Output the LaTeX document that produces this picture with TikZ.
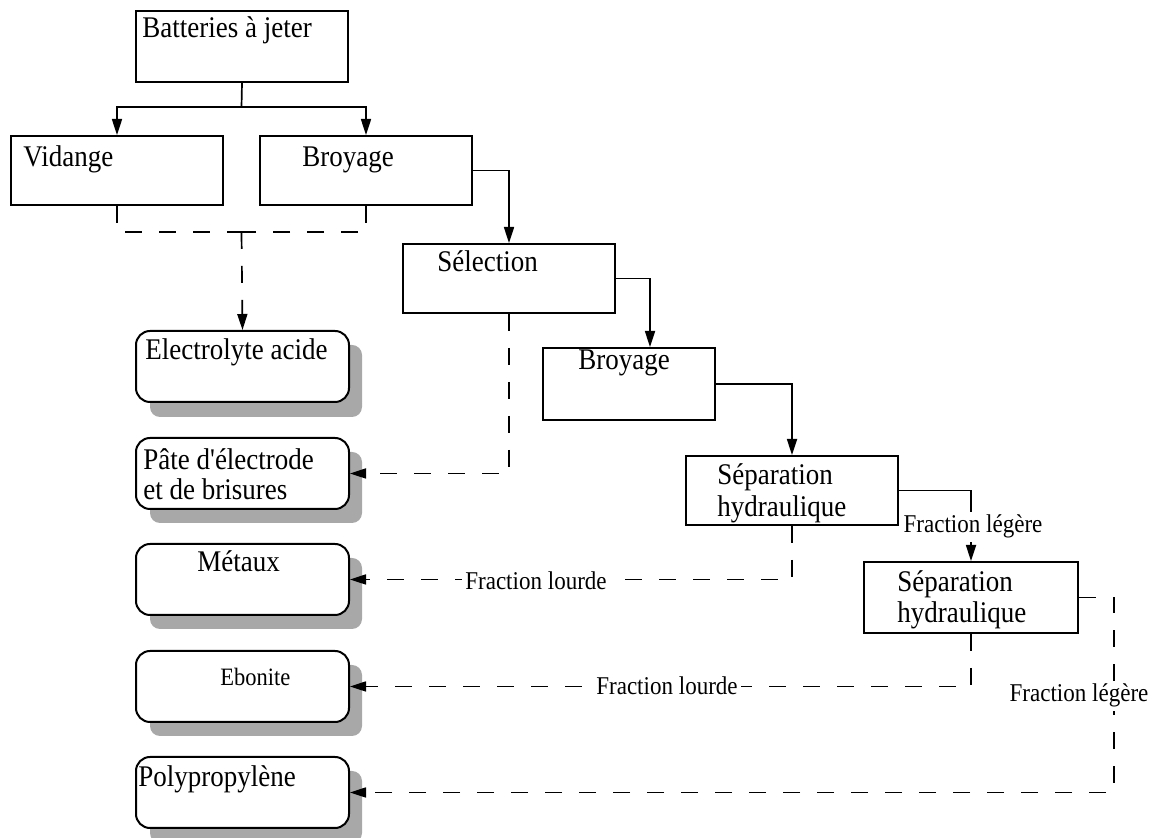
\documentclass[tikz,border=0pt]{standalone}
\usepackage{fontspec}
\setmainfont{Liberation Serif}[FakeStretch=0.9, Ligatures=TeXOff]
\usetikzlibrary{arrows.meta}
\definecolor{shadowgray}{RGB}{168,168,168}
\begin{document}
\begin{tikzpicture}[x=0.5pt,y=-0.5pt,
  box/.style={draw, line width=1pt, rectangle, anchor=north west, inner sep=0pt, minimum width=106pt, minimum height=34.5pt},
  rbox/.style={draw, line width=1pt, fill=white, rounded corners=7pt, anchor=north west, inner sep=0pt, minimum width=106.5pt, minimum height=35.5pt},
  shadowbox/.style={fill=shadowgray, rounded corners=5pt},
  txt/.style={anchor=base west, inner sep=0pt, font=\fontsize{15}{18}\selectfont},
  lab/.style={anchor=base, fill=white, inner sep=1.5pt, font=\fontsize{12.8}{15}\selectfont},
  conn/.style={line width=0.85pt},
  arr/.style={conn, -{Triangle[length=8pt,width=5pt]}},
  dline/.style={conn, dash pattern=on 8.5pt off 8.5pt},
]
\useasboundingbox (0,0) rectangle (1152,838);
\fill[white] (0,0) rectangle (1152,838);

% shadows of the rounded boxes
\fill[shadowbox] (150,345) rectangle (362,417);
\fill[shadowbox] (150,452) rectangle (362,523);
\fill[shadowbox] (150,558) rectangle (362,629);
\fill[shadowbox] (150,665) rectangle (362,736);
\fill[shadowbox] (150,771) rectangle (362,843);

% process boxes
\node[box, minimum height=35.5pt] (bat) at (135,10) {};
\node[box] (vid) at (10,135) {};
\node[box] (bro1) at (259,135) {};
\node[box] (sel) at (402,243) {};
\node[box, minimum width=86pt, minimum height=36pt] (bro2) at (542,347) {};
\node[box] (sep1) at (685,455) {};
\node[box, minimum width=107pt, minimum height=35.5pt] (sep2) at (863,561) {};

% product boxes
\node[rbox] (elec) at (135,330) {};
\node[rbox] (pate) at (135,437) {};
\node[rbox] (met) at (135,543) {};
\node[rbox] (ebo) at (135,650) {};
\node[rbox] (poly) at (135,756) {};

% texts
\node[txt] (tbat) at (142,38) {Batteries à jeter};
\node[txt] (tvid) at (23,167) {Vidange};
\node[txt] (tbro1) at (302,167) {Broyage};
\node[txt] (tsel) at (437,272) {Sélection};
\node[txt] (telec) at (145,360) {Electrolyte acide};
\node[txt] (tpatea) at (143,470) {Pâte d'électrode};
\node[txt] (tpateb) at (143,500) {et de brisures};
\node[txt] (tbro2) at (578,370) {Broyage};
\node[txt] (tsepa) at (717,485) {Séparation};
\node[txt] (tsepb) at (717,517) {hydraulique};
\node[txt] (tsepc) at (897,592) {Séparation};
\node[txt] (tsepd) at (897,623) {hydraulique};
\node[txt] (tmet) at (197,572) {Métaux};
\node[txt, font=\fontsize{12.5}{15}\selectfont] (tebo) at (220,686) {Ebonite};
\node[txt] (tpoly) at (138,787) {Polypropylène};

% solid connectors
\coordinate (j1) at (241.5,107);
\draw[conn] (bat.south) -- (j1);
\draw[arr] (j1) -| (vid.north);
\draw[arr] (j1) -| (bro1.north);
\draw[arr] (bro1.east) -| (sel.north);
\draw[arr] (sel.east) -| ([xshift=54pt]bro2.north west);
\draw[arr] (bro2.east) -| (sep1.north);
\draw[arr] (sep1.east) -| (sep2.north);

% dashed connectors
\coordinate (j2) at (241.5,232);
\draw[dline] (vid.south) |- (j2);
\draw[dline] (bro1.south) |- (j2);
\draw[dline, arr] (j2) -- (elec.north);
\draw[dline, arr] (sel.south) |- (pate.east);
\draw[dline, arr] (sep1.south) |- (met.east);
\draw[dline, arr] (sep2.south) |- (ebo.east);
\draw[dline, arr] (sep2.east) -- ++(17.5pt,0) |- (poly.east);

% labels
\node[lab] (l1) at (973,533) {Fraction légère};
\node[lab] (l2) at (536,590) {Fraction lourde};
\node[lab] (l3) at (667,695) {Fraction lourde};
\node[lab] (l4) at (1079,702) {Fraction légère};
\end{tikzpicture}
\end{document}
